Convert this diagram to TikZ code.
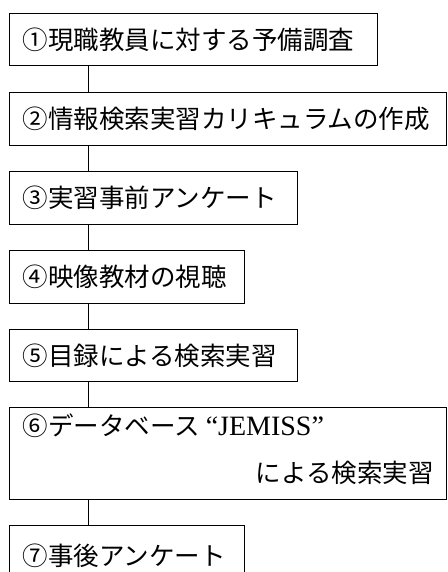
\documentclass[tikz,border=0pt]{standalone}
\usepackage{fontspec}
\setmainfont{Liberation Serif}
\newfontfamily\jp{Noto Sans CJK JP}
\begin{document}
\begin{tikzpicture}[x=1pt,y=-1pt,
  stepbox/.style={draw, line width=1.1pt, rectangle, anchor=north west,
    inner xsep=13pt, inner ysep=0pt, align=left,
    font=\jp\fontsize{25.5}{47}\selectfont},
  link/.style={line width=0.8pt}]
\useasboundingbox (0,0) rectangle (447,572);
\clip (0,0) rectangle (447,572);
\node[stepbox, text width=342pt, minimum height=52pt] (b1) at (9,13) {①現職教員に対する予備調査};
\node[stepbox, text width=411pt, minimum height=53pt] (b2) at (9,92) {②情報検索実習カリキュラムの作成};
\node[stepbox, text width=262pt, minimum height=53pt] (b3) at (9,171) {③実習事前アンケート};
\node[stepbox, text width=209pt, minimum height=53pt] (b4) at (9,250) {④映像教材の視聴};
\node[stepbox, text width=262pt, minimum height=52pt] (b5) at (9,329) {⑤目録による検索実習};
\node[stepbox, text width=411pt, minimum height=92pt] (b6) at (9,407) {⑥データベース\hspace{6pt}{\rmfamily\fontsize{28}{47}\selectfont“JEMISS”}\\\hbox to \hsize{\hfill による検索実習\rule[-11pt]{0pt}{0pt}}};
\node[stepbox, text width=209pt, minimum height=60pt] (b7) at (9,525) {⑦事後アンケート};
\foreach \a/\b in {b1/b2,b2/b3,b3/b4,b4/b5,b5/b6,b6/b7}
  \draw[link] ([xshift=79pt]\a.south west) -- ([xshift=79pt]\b.north west);
\end{tikzpicture}
\end{document}
